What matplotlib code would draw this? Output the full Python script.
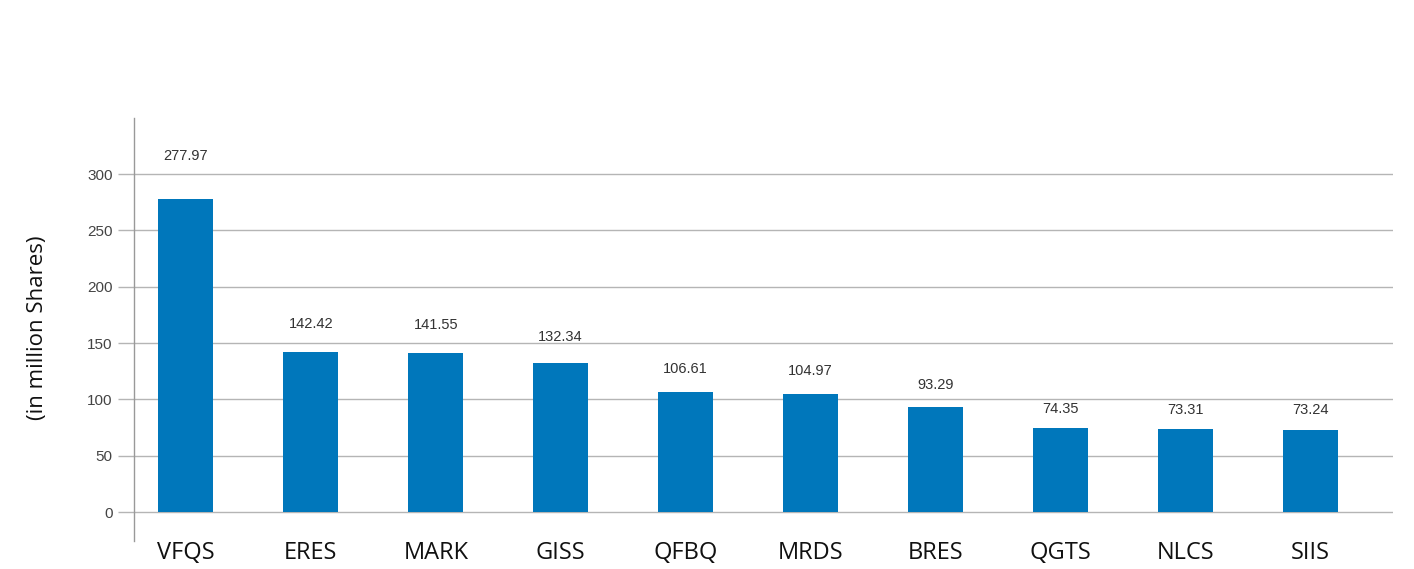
import matplotlib
matplotlib.use("Agg")
import matplotlib.pyplot as plt

categories = ["VFQS", "ERES", "MARK", "GISS", "QFBQ", "MRDS", "BRES", "QGTS", "NLCS", "SIIS"]
values = [277.97, 142.42, 141.55, 132.34, 106.61, 104.97, 93.29, 74.35, 73.31, 73.24]
yticks = [0, 50, 100, 150, 200, 250, 300]

W, H = 1414, 569
fig = plt.figure(figsize=(W / 100, H / 100), dpi=100)
ax = fig.add_axes([134 / W, 1 - 541 / H, (1393 - 134) / W, (541 - 118) / H])

x = list(range(len(categories)))
ax.bar(x, values, width=0.44, color="#0077bb", zorder=3)

for xi, v in zip(x, values):
    ax.text(xi, v * 1.1 + 10, f"{v:.2f}", ha="center", va="center",
            fontsize=10.5, color="#333333", family="Liberation Sans")

ax.set_xlim(-0.416, 9.664)
ax.set_ylim(-25.7, 349.7)

ax.set_yticks(yticks)
ax.set_yticklabels([str(t) for t in yticks], family="Liberation Sans", fontsize=11, color="#444444")
ax.tick_params(axis="y", length=11.5, width=1, color="#b5b5b5", pad=4)
for t in yticks:
    ax.axhline(t, color="#b5b5b5", lw=1, zorder=1)

ax.set_xticks(x)
ax.set_xticklabels(categories, family="Open Sans", fontsize=17, color="#111111")
ax.tick_params(axis="x", length=0, pad=0)

for s in ["top", "right", "bottom"]:
    ax.spines[s].set_visible(False)
ax.spines["left"].set_color("#999999")
ax.spines["left"].set_linewidth(1)

fig.text(38 / W, 1 - 328 / H, "(in million Shares)", rotation=90, ha="center", va="center",
         family="Open Sans", fontsize=16, color="#111111")

fig.savefig("out.png", dpi=100)
